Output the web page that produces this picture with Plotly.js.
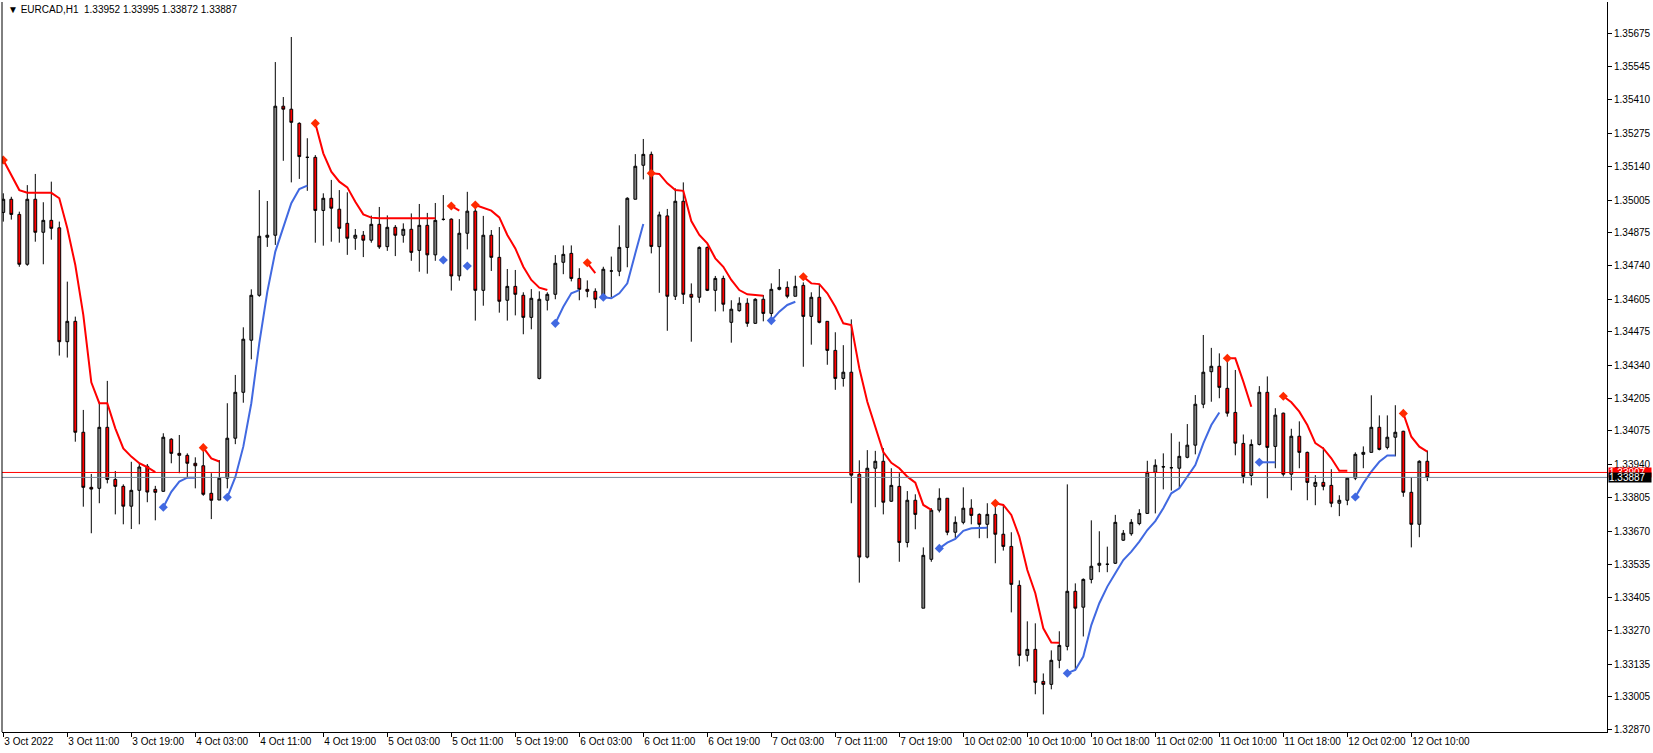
<!DOCTYPE html>
<html>
<head>
<meta charset="utf-8">
<script src="https://cdn.plot.ly/plotly-3.0.1.min.js"></script>
<style>html,body{margin:0;padding:0;background:#fff;}#chart{width:1653px;height:753px;}</style>
</head>
<body>
<div id="chart"></div>
<script>
const symbolTitle = '\u25BC EURCAD,H1  1.33952 1.33995 1.33872 1.33887';
const xTickLabels = ['3 Oct 2022','3 Oct 11:00','3 Oct 19:00','4 Oct 03:00','4 Oct 11:00','4 Oct 19:00','5 Oct 03:00','5 Oct 11:00','5 Oct 19:00','6 Oct 03:00','6 Oct 11:00','6 Oct 19:00','7 Oct 03:00','7 Oct 11:00','7 Oct 19:00','10 Oct 02:00','10 Oct 10:00','10 Oct 18:00','11 Oct 02:00','11 Oct 10:00','11 Oct 18:00','12 Oct 02:00','12 Oct 10:00'];
const priceTicks = [1.35675,1.35545,1.35410,1.35275,1.35140,1.35005,1.34875,1.34740,1.34605,1.34475,1.34340,1.34205,1.34075,1.33940,1.33805,1.33670,1.33535,1.33405,1.33270,1.33135,1.33005,1.32870];
const askPrice = 1.33907;
const bidPrice = 1.33887;

const opens = [1.34955,1.35008,1.34947,1.34746,1.35008,1.34875,1.34923,1.34893,1.34434,1.34516,
1.34069,1.33847,1.33843,1.34089,1.33879,1.33851,1.33771,1.33835,1.33932,1.33839,
1.33831,1.34041,1.33984,1.33976,1.33944,1.33934,1.33823,1.33796,1.33884,1.34045,
1.34230,1.34440,1.34621,1.34855,1.34863,1.35383,1.35371,1.35314,1.35177,1.35177,
1.34963,1.35012,1.34968,1.34911,1.34851,1.34863,1.34843,1.34907,1.34817,1.34895,
1.34863,1.34887,1.34802,1.34903,1.34784,1.34927,1.34928,1.34699,1.34871,1.34960,
1.34641,1.34863,1.34774,1.34601,1.34657,1.34621,1.34532,1.34286,1.34601,1.34625,
1.34754,1.34790,1.34689,1.34645,1.34637,1.34613,1.34719,1.34718,1.34814,1.35008,
1.35145,1.35189,1.34817,1.34941,1.34617,1.35000,1.34625,1.34613,1.34814,1.34641,
1.34689,1.34512,1.34559,1.34589,1.34508,1.34605,1.34548,1.34645,1.34653,1.34617,
1.34661,1.34536,1.34613,1.34516,1.34399,1.34286,1.34311,1.33900,1.33566,1.33924,
1.33952,1.33791,1.33851,1.33625,1.33795,1.33360,1.33557,1.33755,1.33803,1.33666,
1.33706,1.33763,1.33738,1.33698,1.33738,1.33658,1.33609,1.33452,1.33170,1.33194,
1.33065,1.33053,1.33150,1.33206,1.33428,1.33364,1.33476,1.33533,1.33537,1.33541,
1.33634,1.33660,1.33701,1.33742,1.33908,1.33929,1.33926,1.33924,1.33968,1.34017,
1.34182,1.34313,1.34335,1.34246,1.34149,1.34024,1.33895,1.34020,1.34230,1.34012,
1.34146,1.33900,1.34053,1.33988,1.33851,1.33867,1.33855,1.33783,1.33795,1.33884,
1.33980,1.33988,1.34089,1.34008,1.34049,1.34073,1.33827,1.33698,1.33952];

const highs = [1.35032,1.35018,1.34958,1.35065,1.35110,1.34996,1.35079,1.34918,1.34676,1.34535,
1.34159,1.33901,1.34192,1.34276,1.33913,1.33859,1.33950,1.33944,1.33941,1.33853,
1.34065,1.34045,1.34058,1.33984,1.33968,1.34011,1.33904,1.33957,1.34186,1.34300,
1.34492,1.34645,1.35045,1.35001,1.35561,1.35420,1.35662,1.35318,1.35254,1.35186,
1.35032,1.35086,1.35045,1.35036,1.34888,1.34880,1.34942,1.34977,1.34943,1.34904,
1.34911,1.34951,1.34989,1.34953,1.34993,1.35025,1.34931,1.34928,1.35038,1.34992,
1.34941,1.34884,1.34896,1.34727,1.34723,1.34633,1.34646,1.34637,1.34633,1.34783,
1.34822,1.34822,1.34730,1.34681,1.34649,1.34736,1.34777,1.34903,1.35016,1.35190,
1.35251,1.35200,1.34958,1.34969,1.35052,1.35076,1.34669,1.34818,1.34818,1.34699,
1.34700,1.34601,1.34613,1.34609,1.34609,1.34622,1.34669,1.34727,1.34677,1.34700,
1.34673,1.34633,1.34665,1.34516,1.34472,1.34420,1.34524,1.33956,1.33997,1.33994,
1.34005,1.33924,1.33904,1.33832,1.33819,1.33605,1.33763,1.33843,1.33803,1.33730,
1.33847,1.33799,1.33742,1.33783,1.33795,1.33775,1.33666,1.33472,1.33307,1.33299,
1.33097,1.33190,1.33267,1.33859,1.33460,1.33480,1.33714,1.33670,1.33608,1.33736,
1.33675,1.33719,1.33759,1.33954,1.33960,1.33984,1.34065,1.34031,1.34102,1.34219,
1.34461,1.34409,1.34387,1.34367,1.34320,1.34060,1.34040,1.34255,1.34294,1.34166,
1.34148,1.34083,1.34113,1.33991,1.33896,1.34008,1.33920,1.33815,1.33888,1.33988,
1.34012,1.34218,1.34137,1.34137,1.34178,1.34075,1.33888,1.33956,1.33995];

const lows = [1.34918,1.34926,1.34736,1.34740,1.34837,1.34746,1.34845,1.34378,1.34370,1.34031,
1.33769,1.33662,1.33783,1.33863,1.33738,1.33698,1.33679,1.33698,1.33787,1.33714,
1.33829,1.33944,1.33904,1.33884,1.33843,1.33813,1.33719,1.33796,1.33843,1.34021,
1.34188,1.34363,1.34615,1.34816,1.34824,1.35163,1.35076,1.35090,1.35042,1.34833,
1.34821,1.34837,1.34833,1.34784,1.34804,1.34775,1.34833,1.34808,1.34800,1.34779,
1.34833,1.34760,1.34716,1.34708,1.34760,1.34922,1.34640,1.34680,1.34806,1.34519,
1.34579,1.34719,1.34551,1.34519,1.34540,1.34464,1.34484,1.34282,1.34560,1.34605,
1.34706,1.34677,1.34601,1.34613,1.34569,1.34609,1.34613,1.34698,1.34734,1.35008,
1.35088,1.34790,1.34631,1.34478,1.34602,1.34586,1.34434,1.34591,1.34638,1.34556,
1.34556,1.34430,1.34555,1.34494,1.34506,1.34516,1.34516,1.34641,1.34609,1.34617,
1.34333,1.34422,1.34508,1.34341,1.34240,1.34253,1.33783,1.33463,1.33561,1.33767,
1.33738,1.33788,1.33547,1.33605,1.33678,1.33360,1.33547,1.33746,1.33654,1.33642,
1.33698,1.33698,1.33642,1.33642,1.33541,1.33592,1.33343,1.33126,1.33145,1.33013,
1.32932,1.33033,1.33118,1.33190,1.33110,1.33246,1.33460,1.33505,1.33505,1.33538,
1.33631,1.33652,1.33694,1.33740,1.33742,1.33839,1.33834,1.33842,1.33964,1.33980,
1.34166,1.34192,1.34206,1.34132,1.33976,1.33863,1.33855,1.34016,1.33803,1.33924,
1.33891,1.33835,1.33924,1.33795,1.33775,1.33835,1.33767,1.33731,1.33775,1.33876,
1.33924,1.33988,1.33996,1.34000,1.33972,1.33809,1.33605,1.33646,1.33872];

const closes = [1.35008,1.34947,1.34746,1.35008,1.34875,1.34923,1.34891,1.34434,1.34516,1.34069,
1.33847,1.33840,1.34089,1.33879,1.33851,1.33771,1.33835,1.33929,1.33828,1.33827,
1.34049,1.33984,1.33976,1.33944,1.33934,1.33819,1.33795,1.33884,1.34045,1.34230,
1.34444,1.34621,1.34859,1.34863,1.35383,1.35371,1.35318,1.35180,1.35177,1.34963,
1.35012,1.34972,1.34891,1.34851,1.34863,1.34843,1.34907,1.34816,1.34895,1.34863,
1.34887,1.34794,1.34903,1.34784,1.34923,1.34927,1.34699,1.34871,1.34960,1.34641,
1.34863,1.34774,1.34597,1.34657,1.34625,1.34532,1.34609,1.34605,1.34625,1.34750,
1.34786,1.34689,1.34645,1.34637,1.34605,1.34726,1.34719,1.34814,1.35012,1.35141,
1.35189,1.34818,1.34945,1.34617,1.35000,1.34625,1.34613,1.34814,1.34641,1.34689,
1.34585,1.34565,1.34589,1.34508,1.34605,1.34548,1.34645,1.34653,1.34617,1.34657,
1.34536,1.34613,1.34512,1.34399,1.34286,1.34311,1.33896,1.33566,1.33924,1.33952,
1.33787,1.33855,1.33625,1.33795,1.33738,1.33573,1.33755,1.33803,1.33666,1.33706,
1.33763,1.33734,1.33698,1.33738,1.33658,1.33609,1.33456,1.33170,1.33194,1.33061,
1.33053,1.33150,1.33210,1.33428,1.33360,1.33476,1.33529,1.33541,1.33537,1.33706,
1.33662,1.33706,1.33742,1.33908,1.33936,1.33930,1.33926,1.33972,1.34017,1.34182,
1.34311,1.34335,1.34250,1.34146,1.34025,1.33891,1.34020,1.34230,1.34008,1.34138,
1.33900,1.34053,1.33988,1.33867,1.33867,1.33851,1.33783,1.33795,1.33884,1.33980,
1.33988,1.34089,1.34000,1.34049,1.34069,1.33827,1.33698,1.33952,1.33887];

// indicator segments: [first bar index, values...]
const redSegments = [
  [0, [1.35166,1.35106,1.35045,1.35034,1.35034,1.35034,1.35034,1.35012,1.34891,1.34743,1.34542,1.34270,1.34186,1.34186,1.34085,1.34004,1.33971,1.33944,1.33928,1.33908]],
  [25, [1.34007,1.33964,1.33951]],
  [39, [1.35314,1.35193,1.35119,1.35079,1.35056,1.34998,1.34947,1.34934,1.34931,1.34931,1.34931,1.34931,1.34931,1.34931,1.34931,1.34931]],
  [56, [1.34981,1.34962]],
  [59, [1.34985,1.34972,1.34962,1.34935,1.34864,1.34810,1.34736,1.34683,1.34652,1.34642]],
  [73, [1.34752,1.34710]],
  [81, [1.35113,1.35110,1.35072,1.35045,1.35042,1.34920,1.34864,1.34830,1.34770,1.34736,1.34683,1.34642,1.34625,1.34622,1.34619]],
  [100, [1.34696,1.34669,1.34666,1.34629,1.34575,1.34508,1.34501,1.34327,1.34192,1.34091,1.33989,1.33946,1.33924,1.33890,1.33866,1.33776,1.33756]],
  [124, [1.33783,1.33776,1.33736,1.33648,1.33514,1.33420,1.33279,1.33222,1.33221]],
  [153, [1.34367,1.34367,1.34273,1.34172]],
  [160, [1.34214,1.34190,1.34152,1.34098,1.34025,1.34004,1.33964,1.33914,1.33914]],
  [175, [1.34145,1.34051,1.34011,1.33991]]
];
const blueSegments = [
  [20, [1.33767,1.33829,1.33870,1.33886,1.33886]],
  [28, [1.33807,1.33888,1.34011,1.34186,1.34428,1.34635,1.34797,1.34891,1.34992,1.35049,1.35063]],
  [55, [1.34763]],
  [58, [1.34739]],
  [69, [1.34508,1.34575,1.34629,1.34642]],
  [75, [1.34613,1.34609,1.34629,1.34669,1.34790,1.34908]],
  [96, [1.34519,1.34555,1.34582,1.34595]],
  [117, [1.33601,1.33624,1.33639,1.33672,1.33682,1.33684,1.33684]],
  [133, [1.33098,1.33111,1.33165,1.33292,1.33380,1.33447,1.33501,1.33554,1.33588,1.33628,1.33675,1.33711,1.33763,1.33823,1.33843,1.33890,1.33937,1.34024,1.34098,1.34149]],
  [157, [1.33948,1.33948,1.33948]],
  [169, [1.33808,1.33863,1.33910,1.33950,1.33975,1.33975]]
];

const N = opens.length;
const xs = opens.map((_, i) => i);
function buildLine(segs) {
  const arr = new Array(N).fill(null);
  segs.forEach(([s, vals]) => vals.forEach((v, k) => { arr[s + k] = v; }));
  return arr;
}
function starts(segs) {
  return { x: segs.map(s => s[0]), y: segs.map(s => s[1][0]) };
}
const redLine = buildLine(redSegments);
const blueLine = buildLine(blueSegments);
const redStart = starts(redSegments);
const blueStart = starts(blueSegments);

const FONT = 'Liberation Sans, Arial, sans-serif';

const traces = [
  {
    type: 'candlestick', x: xs, open: opens, high: highs, low: lows, close: closes,
    increasing: { line: { color: '#000000', width: 1 }, fillcolor: '#808080' },
    decreasing: { line: { color: '#000000', width: 1 }, fillcolor: '#ff0000' },
    whiskerwidth: 0, hoverinfo: 'skip', showlegend: false
  },
  { type: 'scatter', mode: 'lines', x: xs, y: redLine, connectgaps: false,
    line: { color: '#ff0000', width: 2 }, hoverinfo: 'skip', showlegend: false },
  { type: 'scatter', mode: 'lines', x: xs, y: blueLine, connectgaps: false,
    line: { color: '#4169e1', width: 2 }, hoverinfo: 'skip', showlegend: false },
  { type: 'scatter', mode: 'markers', x: redStart.x, y: redStart.y,
    marker: { symbol: 'diamond', size: 7, color: '#ff2a00' }, hoverinfo: 'skip', showlegend: false },
  { type: 'scatter', mode: 'markers', x: blueStart.x, y: blueStart.y,
    marker: { symbol: 'diamond', size: 7, color: '#4169e1' }, hoverinfo: 'skip', showlegend: false }
];

const layout = {
  width: 1653, height: 753,
  margin: { l: 2, r: 46, t: 2, b: 21, pad: 0 },
  paper_bgcolor: '#ffffff', plot_bgcolor: '#ffffff',
  showlegend: false,
  boxgap: 0.5,
  font: { family: FONT, size: 10, color: '#000000' },
  xaxis: {
    type: 'linear', range: [-0.1625, 200.46], fixedrange: true,
    rangeslider: { visible: false },
    showgrid: false, zeroline: false,
    showline: true, linecolor: '#000000', linewidth: 1,
    ticks: 'outside', ticklen: 4, tickcolor: '#000000', tickwidth: 1,
    tickmode: 'array', tickvals: xTickLabels.map((_, i) => i * 8), ticktext: xTickLabels,
    tickangle: 0,
    ticklabelposition: 'outside right',
    tickfont: { family: FONT, size: 10, color: '#000000' }
  },
  yaxis: {
    side: 'right', range: [1.32861, 1.35803], fixedrange: true,
    showgrid: false, zeroline: false,
    showline: true, linecolor: '#000000', linewidth: 1,
    ticks: 'outside', ticklen: 4, tickcolor: '#000000', tickwidth: 1,
    tickmode: 'array', tickvals: priceTicks, ticktext: priceTicks.map(v => v.toFixed(5)),
    tickfont: { family: FONT, size: 10, color: '#000000' }
  },
  shapes: [
    { type: 'line', xref: 'paper', yref: 'y', x0: 0, x1: 1, y0: askPrice, y1: askPrice,
      line: { color: '#ff0000', width: 1 } },
    { type: 'line', xref: 'paper', yref: 'y', x0: 0, x1: 1, y0: bidPrice, y1: bidPrice,
      line: { color: '#778899', width: 1 } },
    { type: 'line', xref: 'paper', yref: 'paper', x0: 0, x1: 0, y0: 0, y1: 1,
      line: { color: '#000000', width: 1 } }
  ],
  annotations: [
    { xref: 'paper', yref: 'paper', x: 0, y: 1, xanchor: 'left', yanchor: 'top',
      xshift: 4, yshift: 0, showarrow: false, text: symbolTitle,
      font: { family: FONT, size: 10, color: '#000000' } },
    { xref: 'paper', yref: 'y', x: 1, y: askPrice, xanchor: 'left', yanchor: 'middle',
      xshift: 1, showarrow: false, text: askPrice.toFixed(5), bgcolor: '#ff0000',
      width: 42, height: 9, borderpad: 0, align: 'left',
      font: { family: FONT, size: 10, color: '#ffffff' } },
    { xref: 'paper', yref: 'y', x: 1, y: bidPrice, xanchor: 'left', yanchor: 'middle',
      xshift: 1, showarrow: false, text: bidPrice.toFixed(5), bgcolor: '#000000',
      width: 42, height: 9, borderpad: 0, align: 'left',
      font: { family: FONT, size: 10, color: '#ffffff' } }
  ]
};

Plotly.newPlot('chart', traces, layout, { displayModeBar: false, staticPlot: true });
</script>
</body>
</html>
